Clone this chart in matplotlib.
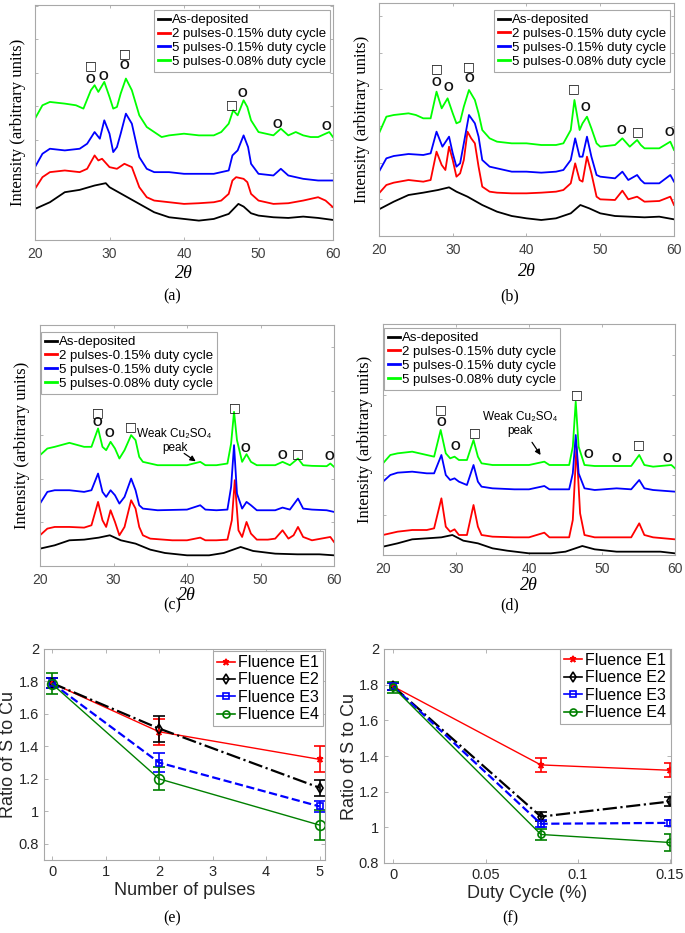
import matplotlib
matplotlib.use("Agg")
import matplotlib.pyplot as plt
from matplotlib.ticker import FormatStrFormatter, MultipleLocator
from matplotlib.lines import Line2D
import numpy as np

# ---------------- XRD data (2theta, intensity in arbitrary units) ----------------
labels_xrd = ["As-deposited", "2 pulses-0.15% duty cycle",
              "5 pulses-0.15% duty cycle", "5 pulses-0.08% duty cycle"]
colors_xrd = ["#000000", "#ff0000", "#0000ff", "#00ff00"]

# panel (a)
a_black_x = [20, 22, 24, 26, 28, 29.5, 30, 32, 34, 36, 38, 40, 42, 44, 46, 47.3, 48, 49, 50, 52, 54, 56, 58, 60]
a_black_y = [93, 113, 143, 150, 163, 170, 158, 133, 108, 83, 68, 63, 58, 63, 78, 108, 100, 80, 73, 68, 66, 70, 66, 60]
a_red_x = [20, 21, 22, 24, 26, 27, 28, 28.5, 29, 30, 31, 32, 33, 34, 35, 36, 38, 40, 42, 44, 45, 46, 46.5, 47, 48, 48.5, 49, 50, 52, 54, 56, 58, 59, 60]
a_red_y = [153, 188, 203, 208, 203, 213, 253, 238, 243, 218, 213, 228, 218, 158, 128, 118, 113, 108, 110, 113, 118, 138, 178, 188, 183, 173, 138, 118, 108, 110, 118, 128, 118, 98]
a_blue_x = [20, 21, 22, 24, 26, 27, 28, 28.7, 29.3, 30, 30.5, 31, 31.5, 32.2, 33, 34, 35, 36, 38, 40, 42, 44, 46, 46.5, 47.2, 48, 48.6, 49, 50, 52, 53, 54, 56, 58, 60]
a_blue_y = [218, 258, 273, 268, 273, 288, 323, 303, 358, 318, 263, 278, 318, 378, 348, 248, 213, 203, 203, 198, 198, 198, 208, 253, 268, 313, 278, 228, 198, 193, 213, 193, 183, 178, 178]
a_green_x = [20, 21, 22, 24, 25.5, 26.5, 27.5, 28, 28.5, 29.3, 30, 30.5, 31, 31.5, 32.2, 33, 34, 35, 36, 37, 38, 40, 42, 44, 45, 46, 46.6, 47.2, 48, 48.5, 49, 50, 52, 53, 54, 55, 56, 57, 58, 59, 59.5, 60]
a_green_y = [363, 403, 413, 408, 403, 393, 448, 463, 443, 473, 428, 393, 398, 438, 483, 448, 373, 338, 323, 308, 313, 318, 313, 313, 323, 348, 388, 373, 418, 398, 358, 323, 313, 333, 313, 323, 313, 308, 308, 318, 323, 308]

# panel (b)
b_black_x = [20, 22, 24, 26, 28, 29.5, 30.5, 32, 34, 36, 38, 40, 42, 44, 46, 47.3, 48.5, 50, 52, 54, 56, 58, 60]
b_black_y = [80, 103, 123, 130, 138, 146, 133, 118, 93, 73, 60, 53, 48, 53, 68, 93, 83, 68, 60, 58, 56, 58, 50]
b_red_x = [20, 21, 22, 24, 26, 27, 27.8, 28.5, 29, 29.5, 30, 30.5, 31, 31.5, 32, 32.5, 33, 33.5, 34, 35, 36, 38, 40, 42, 44, 45, 46, 46.6, 47.2, 47.6, 48.2, 48.8, 49.5, 50, 52, 53, 53.8, 55, 56, 58, 59.5, 60]
b_red_y = [128, 153, 160, 168, 163, 168, 253, 213, 198, 268, 228, 178, 188, 228, 313, 293, 278, 208, 148, 133, 130, 128, 128, 130, 133, 138, 158, 218, 168, 163, 238, 188, 118, 110, 108, 136, 110, 118, 103, 105, 118, 93]
b_blue_x = [20, 21, 22, 24, 26, 27, 27.8, 28.6, 29.5, 30, 30.5, 31, 31.5, 32.2, 33, 33.5, 34, 35, 36, 38, 40, 42, 44, 45, 46, 46.6, 47.2, 47.6, 48.2, 48.8, 49.5, 50, 52, 53, 53.8, 55, 55.5, 56, 58, 59.5, 60]
b_blue_y = [193, 233, 240, 246, 243, 248, 313, 268, 298, 248, 208, 218, 278, 363, 338, 298, 228, 208, 203, 193, 193, 190, 193, 198, 228, 293, 238, 238, 298, 238, 183, 178, 173, 193, 168, 183, 168, 158, 158, 183, 163]
b_green_x = [20, 21, 22, 24, 25, 26, 27, 27.8, 28.5, 29.3, 30, 30.5, 31, 31.5, 32.2, 33, 33.5, 34, 35, 36, 38, 40, 42, 44, 45, 46, 46.5, 47.2, 47.6, 48.2, 48.8, 49.5, 50, 52, 53, 54, 55, 55.5, 56, 58, 59.5, 60]
b_green_y = [308, 358, 363, 368, 363, 353, 353, 433, 383, 413, 368, 338, 343, 388, 438, 408, 368, 318, 293, 283, 278, 278, 273, 273, 278, 318, 408, 318, 338, 358, 323, 278, 268, 273, 293, 268, 288, 273, 263, 263, 283, 258]

# panel (c)
c_black_x = [20, 22, 24, 26, 28, 29.5, 31, 33, 35, 37, 40, 43, 45, 47.3, 49, 52, 55, 58, 60]
c_black_y = [52, 62, 77, 79, 85, 92, 77, 67, 49, 39, 32, 32, 39, 57, 45, 37, 35, 35, 32]
c_red_x = [20, 21, 22, 24, 26, 27, 27.9, 28.5, 29, 29.6, 30.2, 30.8, 31.5, 32.4, 33, 33.5, 34, 35, 38, 40, 41.8, 42.5, 44, 45.5, 46.1, 46.5, 47, 47.5, 48.1, 48.7, 49.5, 51, 52, 53, 53.8, 54.5, 55.1, 55.8, 57, 59.5, 60]
c_red_y = [92, 112, 117, 117, 115, 122, 192, 137, 117, 167, 132, 92, 117, 197, 172, 117, 92, 82, 77, 77, 85, 77, 77, 79, 137, 257, 107, 87, 132, 97, 79, 79, 82, 107, 82, 92, 117, 87, 77, 87, 72]
c_blue_x = [20, 21, 22, 24, 26, 27, 27.9, 28.5, 29, 29.6, 30.2, 30.8, 31.5, 32.4, 33, 33.5, 34, 36, 40, 41.8, 42.5, 44, 45.5, 46.0, 46.4, 46.8, 47.5, 48.1, 48.7, 49.5, 52, 53, 54, 55.1, 55.8, 57, 59, 60]
c_blue_y = [187, 222, 227, 227, 222, 227, 277, 222, 207, 227, 212, 187, 207, 262, 227, 182, 172, 167, 169, 182, 169, 167, 169, 237, 362, 217, 172, 192, 182, 167, 167, 175, 169, 202, 172, 169, 167, 162]
c_green_x = [20, 21, 22, 24, 26, 27, 27.9, 28.5, 29, 29.6, 30.2, 30.8, 31.5, 32.4, 33, 33.5, 34, 36, 38, 40, 41.8, 42.5, 44, 45.5, 46.0, 46.4, 46.8, 47.5, 48.1, 48.7, 49.5, 52, 53, 54, 55.1, 55.8, 57, 59, 59.5, 60]
c_green_y = [332, 352, 357, 369, 357, 357, 412, 357, 347, 372, 352, 322, 347, 392, 377, 327, 312, 302, 302, 302, 312, 302, 302, 307, 367, 462, 377, 312, 335, 312, 302, 302, 312, 302, 322, 302, 300, 299, 307, 297]

# panel (d)
d_black_x = [20, 22, 24, 26, 28, 29.5, 31, 33, 35, 37, 40, 43, 45, 47.3, 49, 52, 55, 58, 60]
d_black_y = [25, 35, 47, 50, 53, 60, 43, 35, 20, 13, 5, 5, 10, 27, 17, 10, 10, 10, 5]
d_red_x = [20, 22, 24, 26, 27, 28, 28.6, 29.2, 29.8, 30.4, 31.5, 32.4, 33, 33.5, 35, 38, 40, 42.1, 42.8, 45.5, 46.0, 46.5, 47, 47.6, 49, 52, 54, 55.1, 55.8, 57, 60]
d_red_y = [60, 70, 75, 75, 80, 170, 85, 70, 77, 60, 60, 150, 85, 60, 55, 53, 53, 67, 53, 53, 105, 325, 125, 60, 53, 53, 53, 95, 60, 53, 47]
d_blue_x = [20, 21, 22, 24, 26, 27, 28, 28.6, 29.2, 29.8, 30.4, 31.5, 32.4, 33, 33.5, 35, 38, 40, 42.1, 42.8, 45.5, 46.0, 46.4, 46.8, 47.6, 49, 52, 54, 55.1, 55.8, 57, 60]
d_blue_y = [220, 240, 247, 250, 245, 245, 300, 240, 225, 230, 220, 210, 270, 220, 205, 200, 197, 197, 207, 197, 197, 245, 360, 245, 200, 195, 200, 197, 225, 200, 195, 190]
d_green_x = [20, 21, 22, 24, 26, 27, 27.9, 28.6, 29.2, 29.8, 30.4, 31.5, 32.4, 33, 33.5, 35, 38, 40, 42.1, 42.8, 45.5, 46.0, 46.4, 46.8, 47.6, 49, 52, 54, 55.1, 55.8, 57, 59.5, 60]
d_green_y = [275, 300, 305, 310, 300, 295, 375, 305, 290, 295, 285, 285, 345, 295, 275, 270, 270, 270, 280, 270, 270, 325, 460, 325, 270, 267, 267, 267, 300, 270, 265, 270, 260]

# phase markers (2theta, intensity, symbol)
a_marks = [(27.5, 520, "□"), (27.5, 478, "O"), (29.2, 488, "O"), (32.0, 558, "□"), (32.0, 520, "O"),
           (46.4, 406, "□"), (47.9, 438, "O"), (52.6, 343, "O"), (59.1, 338, "O")]
b_marks = [(27.8, 503, "□"), (27.8, 458, "O"), (29.4, 443, "O"), (32.2, 508, "□"), (32.2, 470, "O"),
           (46.4, 443, "□"), (48.0, 383, "O"), (52.9, 315, "O"), (55.1, 313, "□"), (59.4, 310, "O")]
c_marks = [(27.8, 460, "□"), (27.8, 427, "O"), (29.4, 395, "O"), (32.4, 417, "□"), (46.5, 475, "□"),
           (48.0, 350, "O"), (53.0, 329, "O"), (55.1, 337, "□"), (59.4, 327, "O")]
d_marks = [(27.95, 435, "□"), (27.95, 395, "O"), (29.9, 325, "O"), (32.5, 368, "□"), (46.5, 480, "□"),
           (48.2, 300, "O"), (52.0, 287, "O"), (55.1, 330, "□"), (59.0, 288, "O")]

# ---------------- Ratio data ----------------
fluence_labels = ["Fluence E1", "Fluence E2", "Fluence E3", "Fluence E4"]
pulses = [0, 2, 5]
e_vals = [[1.79, 1.49, 1.32], [1.79, 1.51, 1.145], [1.79, 1.30, 1.03], [1.785, 1.20, 0.915]]
e_errs = [[0.03, 0.08, 0.08], [0.03, 0.08, 0.05], [0.03, 0.06, 0.035], [0.065, 0.07, 0.09]]
duty = [0, 0.08, 0.15]
f_vals = [[1.79, 1.35, 1.32], [1.79, 1.06, 1.145], [1.79, 1.02, 1.025], [1.785, 0.96, 0.915]]
f_errs = [[0.02, 0.04, 0.04], [0.02, 0.025, 0.025], [0.02, 0.02, 0.015], [0.03, 0.03, 0.045]]

W, H = 685, 933
fig = plt.figure(figsize=(W / 100, H / 100), dpi=100)


def box(l, t, r, b):
    return [l / W, 1 - b / H, (r - l) / W, (b - t) / H]


GRAY = "#a8a8a8"
TICKC = "#404040"
SERIF = ["Liberation Serif", "DejaVu Serif"]
NARROW = ["Liberation Sans Narrow", "Liberation Sans", "DejaVu Sans"]
SANS = ["Liberation Sans", "DejaVu Sans"]


def xrd_panel(rect, curves, ylim, ystep, marks, leg_loc, leg_anchor, panel_label, label_xy,
              xlabelpad=1, weak=None):
    ax = fig.add_axes(box(*rect))
    for (x, y), c, lab in zip(curves, colors_xrd, labels_xrd):
        ax.plot(x, y, color=c, lw=1.3, label=lab)
    ax.set_xlim(20, 60)
    ax.set_ylim(0, ylim)
    ax.set_xticks([20, 30, 40, 50, 60])
    ax.yaxis.set_major_locator(MultipleLocator(ystep))
    ax.set_yticklabels([])
    ax.tick_params(direction="in", length=2.5, width=0.6, color=GRAY, top=True, right=True,
                   labelsize=10, labelcolor=TICKC, pad=5)
    for lab in ax.get_xticklabels():
        lab.set_family(SANS)
    for s in ax.spines.values():
        s.set_color(GRAY)
        s.set_linewidth(0.8)
    ax.set_ylabel("Intensity (arbitrary units)", family=SERIF, fontsize=12)
    ax.set_xlabel("2θ", family=SERIF, style="italic", fontsize=13, labelpad=xlabelpad)
    for x, y, s in marks:
        if s == "□":
            ax.text(x, y, s, ha="center", va="center", fontsize=9, fontweight="bold",
                    family=["DejaVu Sans"], color="#111111")
        else:
            ax.text(x, y, s, ha="center", va="center", fontsize=9, fontweight="bold",
                    family=NARROW, color="#111111")
    if weak is not None:
        tx, ty, ax0, ay0, ax1, ay1 = weak
        ax.text(tx, ty, "Weak Cu₂SO₄\npeak", ha="center", va="center", fontsize=8.5,
                family=NARROW, linespacing=1.25)
        ax.annotate("", xy=(ax1, ay1), xytext=(ax0, ay0),
                    arrowprops=dict(arrowstyle="-|>", color="black", lw=0.9, mutation_scale=8))
    leg = ax.legend(loc=leg_loc, bbox_to_anchor=leg_anchor, prop={"family": NARROW, "size": 9.5},
                    handlelength=0.9, handletextpad=0.15, labelspacing=0.12, borderpad=0.3,
                    borderaxespad=0, fancybox=False, framealpha=1)
    leg.get_frame().set_edgecolor(GRAY)
    leg.get_frame().set_linewidth(0.8)
    for h in leg.get_lines():
        h.set_linewidth(2)
    fig.text(label_xy[0] / W, 1 - label_xy[1] / H, panel_label, ha="center", va="center",
             family=SERIF, fontsize=11.5)
    return ax


axa = xrd_panel((35, 5, 333, 240),
                [(a_black_x, a_black_y), (a_red_x, a_red_y), (a_blue_x, a_blue_y), (a_green_x, a_green_y)],
                703, 100, a_marks, "upper right", (0.99, 0.978), "(a)", (172, 296), xlabelpad=3)
axa.yaxis.set_label_coords(-0.03, 0.5)
axb = xrd_panel((379, 3, 674, 236),
                [(b_black_x, b_black_y), (b_red_x, b_red_y), (b_blue_x, b_blue_y), (b_green_x, b_green_y)],
                699, 110, b_marks, "upper right", (0.987, 0.97), "(b)", (510, 296), xlabelpad=4)
axb.yaxis.set_label_coords(-0.03, 0.5)
axc = xrd_panel((40, 325, 334, 566),
                [(c_black_x, c_black_y), (c_red_x, c_red_y), (c_blue_x, c_blue_y), (c_green_x, c_green_y)],
                722, 131, c_marks, "upper left", (0.005, 0.971), "(c)", (172, 605), xlabelpad=0,
                weak=(38.3, 375, 39.3, 342, 41.5, 309))
axc.yaxis.set_label_coords(-0.035, 0.5)
axd = xrd_panel((383, 324, 675, 555),
                [(d_black_x, d_black_y), (d_red_x, d_red_y), (d_blue_x, d_blue_y), (d_green_x, d_green_y)],
                693, 120, d_marks, "upper left", (0.005, 0.983), "(d)", (510, 605), xlabelpad=1,
                weak=(38.8, 393, 40.2, 345, 41.8, 293))
axd.yaxis.set_label_coords(-0.035, 0.5)

# ---------------- Ratio panels ----------------
ratio_colors = ["#ff0000", "#000000", "#0000ff", "#008000"]
ratio_styles = ["-", "-.", "--", "-"]
ratio_lw = [1.0, 1.6, 1.6, 1.0]
ratio_markers = ["*", "d", "s", "o"]


def ratio_panel(rect, x, vals, errs, xlim, ylim, xticks, xlabel, msize_circle, label, label_xy, leg_anchor):
    ax = fig.add_axes(box(*rect))
    handles = []
    for i in range(4):
        ms = [5, 5, 4, msize_circle][i]
        kw = dict(color=ratio_colors[i], ls=ratio_styles[i], lw=ratio_lw[i],
                  marker=ratio_markers[i], ms=ms, mfc=ratio_colors[i] if i == 0 else "none",
                  mec=ratio_colors[i], mew=1.2)
        ax.errorbar(x, vals[i], yerr=errs[i], capsize=4, elinewidth=1.2, capthick=1.2, **kw)
        kw_leg = dict(kw)
        kw_leg["ls"] = "-"
        kw_leg["lw"] = 1.2
        kw_leg["ms"] = 5
        handles.append(Line2D([], [], label=fluence_labels[i], **kw_leg))
    ax.set_xlim(*xlim)
    ax.set_ylim(*ylim)
    ax.set_xticks(xticks)
    ax.set_yticks([0.8, 1.0, 1.2, 1.4, 1.6, 1.8, 2.0])
    ax.xaxis.set_major_formatter(FormatStrFormatter("%g"))
    ax.yaxis.set_major_formatter(FormatStrFormatter("%g"))
    ax.tick_params(direction="in", length=3, width=0.6, color=GRAY, top=True, right=True,
                   labelsize=10.5, labelcolor="#262626")
    for t in ax.get_xticklabels() + ax.get_yticklabels():
        t.set_family(SANS)
    for s in ax.spines.values():
        s.set_color(GRAY)
        s.set_linewidth(0.8)
    ax.set_ylabel("Ratio of S to Cu", family=SANS, fontsize=13, color="#262626")
    ax.set_xlabel(xlabel, family=SANS, fontsize=13, color="#262626", labelpad=2)
    leg = ax.legend(handles=handles, loc="upper right", bbox_to_anchor=leg_anchor,
                    prop={"family": SANS, "size": 11.5},
                    handlelength=1.1, handletextpad=0.2, labelspacing=0.15, borderpad=0.25,
                    borderaxespad=0, fancybox=False, framealpha=1)
    leg.get_frame().set_edgecolor(GRAY)
    leg.get_frame().set_linewidth(0.8)
    fig.text(label_xy[0] / W, 1 - label_xy[1] / H, label, ha="center", va="center",
             family=SERIF, fontsize=11.5)
    return ax


axe = ratio_panel((44, 649, 325, 860), pulses, e_vals, e_errs, (-0.15, 5.1), (0.7, 2), [0, 1, 2, 3, 4, 5],
                  "Number of pulses", 7, "(e)", (172, 918), (0.993, 0.99))
axe.yaxis.set_label_coords(-0.095, 0.5)
axf = ratio_panel((384, 649, 671, 863), duty, f_vals, f_errs, (-0.005, 0.1505), (0.8, 2), [0, 0.05, 0.1, 0.15],
                  "Duty Cycle (%)", 5, "(f)", (510, 918), (0.997, 1.0))
axf.yaxis.set_label_coords(-0.09, 0.5)

fig.savefig("out.png", dpi=100, facecolor="white")
